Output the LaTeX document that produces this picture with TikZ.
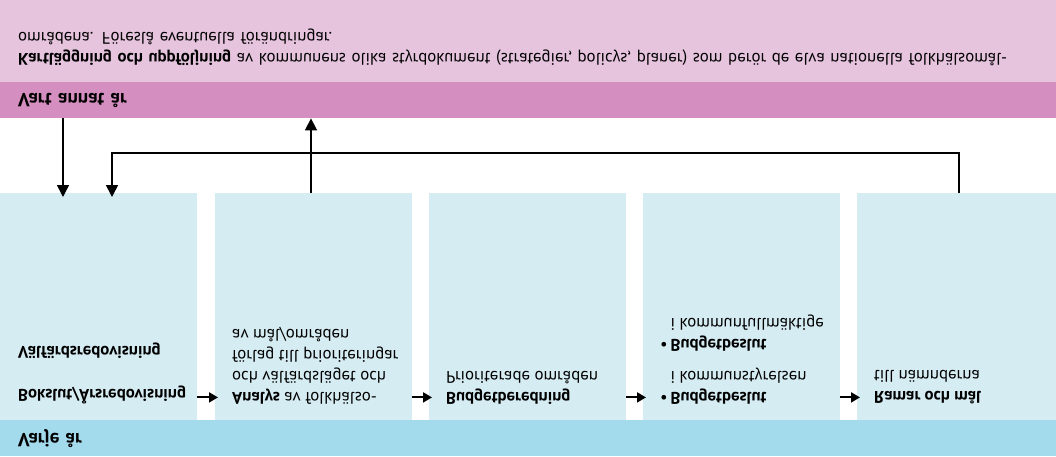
\documentclass[tikz,border=0pt]{standalone}
\usepackage{fontspec}
\setmainfont{PT Sans}
\usepackage{tikz}
\usetikzlibrary{
  arrows.meta,
  positioning,
  calc
}
\definecolor{notepink}{RGB}{230, 196, 222}
\definecolor{bandpink}{RGB}{212, 143, 192}
\definecolor{stepblue}{RGB}{213, 236, 242}
\definecolor{bandblue}{RGB}{163, 218, 236}

\tikzset{
  bandnode/.style={anchor=south west, minimum width=1056pt, inner xsep=18pt,
    inner ysep=0pt, text width=1020pt, align=left, font=\fontsize{19}{21}\selectfont\bfseries},
  stepbox/.style={anchor=south west, fill=stepblue, minimum width=197pt,
    minimum height=227pt, inner sep=0pt},
  steptext/.style={anchor=north west, align=left, inner sep=0pt,
    font=\fontsize{16.8}{21}\selectfont},
  steparrow/.style={line width=2pt, -{Triangle[length=9pt, width=10pt]}},
  linkarrow/.style={line width=1.6pt, -{Triangle[length=12pt, width=12pt]}}
}

\begin{document}
\begin{tikzpicture}[x=1pt, y=1pt, yscale=-1, every node/.append style={transform shape}]
\useasboundingbox (0,0) rectangle (1056,456);

% bands
\node[bandnode, fill=notepink, minimum height=82pt] (notes) at (0,0) {};
\node[bandnode, fill=bandpink, minimum height=36pt] (biennial) at (0,82) {Vart annat år};
\node[bandnode, fill=bandblue, minimum height=36pt] (yearly) at (0,420) {Varje år};
\node[steptext, text width=1030pt] (notestext) at ($(notes.north west)+(18,-16)$) {%
  \textbf{Kartläggning och uppföljning} av kommunens olika styrdokument (strategier, policys, planer) som berör de elva nationella folkhälsomål-\\
  områdena. Föreslå eventuella förändringar.};

% steps
\node[stepbox] (b1) at (0,193) {};
\node[stepbox] (b2) at (215,193) {};
\node[stepbox] (b3) at (429,193) {};
\node[stepbox] (b4) at (643,193) {};
\node[stepbox, minimum width=199pt] (b5) at (857,193) {};

\node[steptext] (t1) at ($(b1.north west)+(18,-16)$) {%
  \textbf{Bokslut/Årsredovisning}\\[22pt]
  \textbf{Välfärdsredovisning}};
\node[steptext] (t2) at ($(b2.north west)+(17,-16)$) {%
  \textbf{Analys} av folkhälso-\\
  och välfärdsläget och\\
  förlag till prioriteringar\\
  av mål/områden};
\node[steptext] (t3) at ($(b3.north west)+(17,-16)$) {%
  \textbf{Budgetberedning}\\
  Prioriterade områden};
\node[steptext] (t4) at ($(b4.north west)+(17,-16)$) {%
  \textbullet\,\textbf{Budgetbeslut}\\
  \hphantom{\textbullet\,}i kommunstyrelsen\\[11pt]
  \textbullet\,\textbf{Budgetbeslut}\\
  \hphantom{\textbullet\,}i kommunfullmäktige};
\node[steptext] (t5) at ($(b5.north west)+(17,-16)$) {%
  \textbf{Ramar och mål}\\
  till nämnderna};

% flow between steps
\foreach \a/\b in {b1/b2, b2/b3, b3/b4, b4/b5}
  \draw[steparrow] ($(\a.north east)+(0,-23)$) -- ($(\b.north west)+(3,-23)$);

% links to the band
\draw[linkarrow] ($(biennial.north west)+(63,0)$) -- ($(b1.south west)+(63,4)$);
\draw[linkarrow] ($(b2.south west)+(96,0)$) -- ($(biennial.north west)+(311,0)$);
\draw[linkarrow] ($(b5.south west)+(102,0)$) -- ++(0,-40) -| ($(b1.south west)+(112,4)$);
\end{tikzpicture}
\end{document}
